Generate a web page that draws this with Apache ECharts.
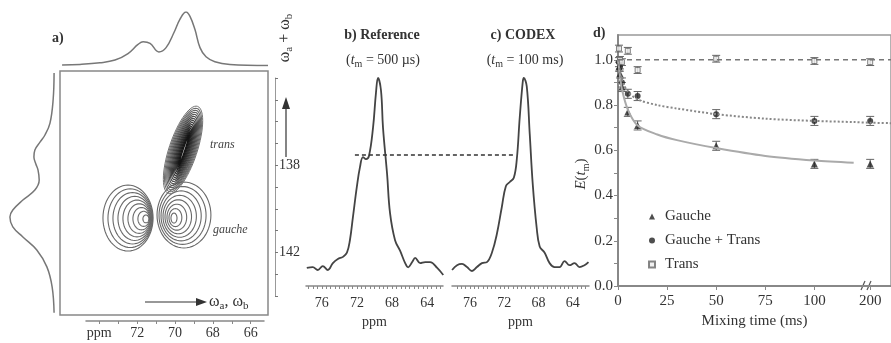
<!DOCTYPE html>
<html>
<head>
<meta charset="utf-8">
<script src="https://cdn.jsdelivr.net/npm/echarts@6/dist/echarts.min.js"></script>
<style>
  html, body { margin: 0; padding: 0; background: #fff; }
  #main { width: 891px; height: 343px; }
</style>
</head>
<body>
<div id="main"></div>
<script>
// ---------- data ----------

// a) projections: [ppm, relative intensity]
const topProj = [
  [76.03, 0.02], [75.08, 0.03], [74.02, 0.06], [73.22, 0.11], [72.53, 0.23],
  [72.0, 0.40], [71.73, 0.45], [71.36, 0.42], [70.89, 0.26], [70.51, 0.34],
  [70.09, 0.62], [69.77, 0.87], [69.45, 1.0], [69.24, 0.92], [68.98, 0.68],
  [68.71, 0.34], [68.39, 0.17], [67.92, 0.08], [67.12, 0.03], [65.1, 0.01]
];
// left projection: [relative intensity, ppm (wa + wb)]
const leftProj = [
  [0.04, 133.71], [0.06, 134.96], [0.125, 136.02], [0.23, 136.57], [0.33, 136.89],
  [0.44, 137.26], [0.46, 137.59], [0.42, 137.91], [0.375, 138.18], [0.35, 138.65],
  [0.44, 139.11], [0.69, 139.57], [0.90, 140.03], [0.96, 140.35], [0.90, 140.81],
  [0.69, 141.27], [0.40, 141.87], [0.19, 142.65], [0.08, 143.58], [0.04, 144.77]
];
// 2D contour peaks: outer / inner contour as [cx, cy, ax, ay, bx, by] (ppm), number of levels
const peaks = [
  { name: 'gauche 1', outer: [72.53, 140.40, 1.33, 0, 0, 1.52], inner: [71.58, 140.44, 0.16, 0, 0, 0.18], levels: 9, dark: false },
  { name: 'gauche 2', outer: [69.56, 140.26, 1.43, 0, 0, 1.52], inner: [70.09, 140.40, 0.16, 0, 0, 0.23], levels: 8, dark: false },
  { name: 'trans', outer: [69.61, 137.26, -0.77, -2.01, -0.705, 0.203], inner: [69.56, 137.26, -0.268, -0.70, -0.05, 0.015], levels: 15, dark: true }
];
const aTicksX = [66, 67, 68, 69, 70, 71, 72, 73, 74];
const aLabelsX = [66, 68, 70, 72, 74];
const aLabelsY = [138, 142];

// b) reference and c) CODEX spectra: [ppm, relative intensity]
const refSpec = [
  [77.71, 0.087], [77.03, 0.091], [76.46, 0.077], [75.89, 0.096], [75.31, 0.077],
  [74.74, 0.11], [74.17, 0.13], [73.6, 0.14], [73.14, 0.16], [72.8, 0.22],
  [72.46, 0.33], [72.0, 0.48], [71.66, 0.57], [71.31, 0.62], [70.97, 0.61],
  [70.63, 0.625], [70.17, 0.76], [69.83, 0.93], [69.6, 1.0], [69.26, 0.94],
  [69.03, 0.76], [68.57, 0.54], [68.23, 0.35], [67.66, 0.22], [67.09, 0.17],
  [66.51, 0.11], [66.17, 0.09], [65.71, 0.115], [65.37, 0.135], [64.8, 0.11],
  [64.23, 0.115], [63.66, 0.115], [62.86, 0.087], [62.17, 0.053]
];
const codexSpec = [
  [78.09, 0.077], [77.51, 0.10], [76.93, 0.106], [76.35, 0.091], [75.77, 0.072],
  [75.19, 0.091], [74.6, 0.11], [74.02, 0.115], [73.44, 0.16], [72.86, 0.25],
  [72.28, 0.38], [71.81, 0.48], [71.35, 0.50], [70.88, 0.52], [70.53, 0.61],
  [70.19, 0.81], [69.84, 0.98], [69.72, 1.0], [69.37, 0.96], [69.02, 0.73],
  [68.67, 0.49], [68.21, 0.28], [67.86, 0.19], [67.28, 0.16], [66.7, 0.11],
  [66.12, 0.091], [65.53, 0.091], [64.95, 0.12], [64.37, 0.10], [63.79, 0.11],
  [63.21, 0.091], [62.63, 0.10], [62.16, 0.115]
];
// dashed level of the reference shoulder, in the b) ppm scale carried on over c)
const shoulderLevel = [[72.23, 0.63], [53.94, 0.63]];
const bcLabels = [64, 68, 72, 76];

// d) exchange decay E(tm)
const times = [0.5, 1, 2, 5, 10, 50, 100, 200];
const gauche = [0.97, 0.94, 0.88, 0.77, 0.71, 0.62, 0.54, 0.54];
const gaucheTrans = [0.99, 0.97, 0.90, 0.85, 0.84, 0.76, 0.73, 0.73];
const trans = [1.05, 1.0, 0.99, 1.04, 0.955, 1.005, 0.995, 0.99];
const errG = [0.02, 0.02, 0.02, 0.02, 0.02, 0.02, 0.02, 0.02];
const errGT = [0.02, 0.02, 0.02, 0.02, 0.02, 0.02, 0.02, 0.02];
const errT = [0.015, 0.015, 0.015, 0.015, 0.015, 0.015, 0.015, 0.015];
const fitGaucheT = [0, 1, 2, 5, 10, 20, 30, 50, 75, 100, 120];
const fitGauche = [1.0, 0.93, 0.87, 0.78, 0.71, 0.67, 0.645, 0.61, 0.575, 0.555, 0.545];
const fitGTT = [0, 1, 2, 5, 10, 20, 30, 50, 75, 100, 120, 200, 211];
const fitGT = [1.0, 0.95, 0.91, 0.86, 0.825, 0.80, 0.785, 0.76, 0.74, 0.73, 0.725, 0.722, 0.72];
const fitTransT = [0, 211];
const fitTrans = [1.0, 1.0];
const dTicksX = [0, 25, 50, 75, 100, 200];
const dTicksY = [0, 0.2, 0.4, 0.6, 0.8, 1.0];

// broken time axis: the stretch between breakFrom and breakFrom + breakShift is cut out
const breakFrom = 122, breakShift = 71.6;
const tx = t => (t <= breakFrom ? t : t - breakShift);

// ---------- chart ----------
const serif = '"Liberation Serif", "DejaVu Serif", serif';
const ink = '#333';

const chart = echarts.init(document.getElementById('main'));

// contour list from the peaks
const contours = [];
peaks.forEach(p => {
  for (let i = 0; i < p.levels; i++) {
    const f = p.levels === 1 ? 0 : i / (p.levels - 1);
    const c = p.outer.map((v, k) => v + (p.inner[k] - v) * f);
    const gray = p.dark ? Math.round(115 - 95 * f) : 105;
    contours.push({ c, color: `rgb(${gray},${gray},${gray})`, width: p.dark ? 1 + 0.5 * f : 1.1 });
  }
});

const pairs = (xs, ys, f) => xs.map((x, i) => [f ? f(x) : x, ys[i]]);
const errData = (ys, es) => times.map((t, i) => [tx(t), ys[i] - es[i], ys[i] + es[i]]);

function renderContour(params, api) {
  const k = contours[api.value(2)];
  const [cx, cy, ax, ay, bx, by] = k.c;
  const pts = [];
  for (let j = 0; j < 60; j++) {
    const a = (j / 60) * Math.PI * 2;
    pts.push(api.coord([cx + ax * Math.cos(a) + bx * Math.sin(a), cy + ay * Math.cos(a) + by * Math.sin(a)]));
  }
  return { type: 'polygon', shape: { points: pts }, style: { fill: 'none', stroke: k.color, lineWidth: k.width } };
}

function renderErr(params, api) {
  const x = api.value(0);
  const lo = api.coord([x, api.value(1)]);
  const hi = api.coord([x, api.value(2)]);
  const st = { stroke: '#666', lineWidth: 1 };
  return {
    type: 'group',
    children: [
      { type: 'line', shape: { x1: lo[0], y1: lo[1], x2: hi[0], y2: hi[1] }, style: st },
      { type: 'line', shape: { x1: lo[0] - 4, y1: lo[1], x2: lo[0] + 4, y2: lo[1] }, style: st },
      { type: 'line', shape: { x1: hi[0] - 4, y1: hi[1], x2: hi[0] + 4, y2: hi[1] }, style: st }
    ]
  };
}

const hiddenX = (g, min, max, inverse) => ({ gridIndex: g, type: 'value', min, max, inverse: !!inverse, show: false });
const hiddenY = (g, min, max, inverse) => ({ gridIndex: g, type: 'value', min, max, inverse: !!inverse, show: false });
const labelStyle = { fontFamily: serif, fontSize: 14, color: ink };

const specAxis = (g, min, max) => ({
  gridIndex: g, type: 'value', min, max, inverse: true,
  axisLine: { show: true, lineStyle: { color: '#888', width: 1.5 } },
  axisTick: { show: true, length: 3, lineStyle: { color: '#888' }, customValues: Array.from({ length: 31 }, (_, i) => 62.5 + i * 0.5) },
  axisLabel: Object.assign({ margin: 10, customValues: bcLabels }, labelStyle),
  splitLine: { show: false },
  name: 'ppm', nameLocation: 'middle', nameGap: 29, nameTextStyle: labelStyle
});

const sub = { fontFamily: serif, fontSize: 10, color: ink, verticalAlign: 'bottom', lineHeight: 10 };

const option = {
  animation: false,
  backgroundColor: '#fff',
  grid: [
    { left: 60, top: 12, width: 208, height: 54 },                  // 0 top projection
    { left: 8, top: 71, width: 48, height: 244 },                   // 1 left projection
    { left: 60, top: 71, width: 208, height: 244, show: true, borderColor: '#888', borderWidth: 1.5 }, // 2 contour
    { left: 86, top: 300, width: 178, height: 21 },                 // 3 a bottom axis
    { left: 275, top: 78, width: 5, height: 218 },                  // 4 a right axis
    { left: 306, top: 78, width: 137, height: 208 },                // 5 b
    { left: 452, top: 78, width: 137, height: 208 },                // 6 c
    { left: 618, top: 35, width: 283, height: 251, show: true, borderColor: '#999', borderWidth: 1.5 }, // 7 d
    { left: 306, top: 78, width: 283, height: 208 }                 // 8 b scale spread over b and c
  ],
  xAxis: [
    hiddenX(0, 65.1, 76.14, true),
    hiddenX(1, 0, 1, true),
    hiddenX(2, 65.1, 76.14, true),
    {
      gridIndex: 3, type: 'value', min: 65.3, max: 74.7, inverse: true,
      axisLine: { show: true, lineStyle: { color: '#888', width: 1.5 } },
      axisTick: { show: true, length: 3, lineStyle: { color: '#888' }, customValues: aTicksX },
      axisLabel: Object.assign({ margin: 5, customValues: aLabelsX, formatter: v => (v === 74 ? 'ppm' : String(v)) }, labelStyle),
      splitLine: { show: false }
    },
    hiddenX(4, 0, 1),
    specAxis(5, 62.2, 77.8),
    specAxis(6, 62.1, 78.1),
    {
      gridIndex: 7, type: 'value', min: 0, max: 139,
      axisLine: { show: true, lineStyle: { color: '#888', width: 2 } },
      axisTick: { show: true, length: 4, lineStyle: { color: '#888' }, customValues: dTicksX.map(tx) },
      axisLabel: {
        margin: 8, customValues: dTicksX.map(tx), fontFamily: serif, color: ink, fontSize: 15,
        formatter: v => String(dTicksX.find(t => Math.abs(tx(t) - v) < 0.01))
      },
      splitLine: { show: false },
      name: 'Mixing time (ms)', nameLocation: 'middle', nameGap: 28,
      nameTextStyle: { fontFamily: serif, fontSize: 15, color: ink }
    },
    hiddenX(8, 45.57, 77.8, true)
  ],
  yAxis: [
    hiddenY(0, 0, 1),
    hiddenY(1, 133.62, 144.87, true),
    hiddenY(2, 133.62, 144.87, true),
    hiddenY(3, 0, 1),
    {
      gridIndex: 4, type: 'value', min: 134, max: 144, interval: 1, inverse: true, position: 'left',
      axisLine: { show: true, lineStyle: { color: '#999', width: 1 } },
      axisTick: { show: true, inside: true, length: 3, lineStyle: { color: '#777' } },
      axisLabel: Object.assign({ inside: true, margin: 4, formatter: v => (aLabelsY.includes(v) ? String(v) : '') }, labelStyle),
      splitLine: { show: false }
    },
    hiddenY(5, 0, 1),
    hiddenY(6, 0, 1),
    {
      gridIndex: 7, type: 'value', min: 0, max: 1.11,
      axisLine: { show: true, lineStyle: { color: '#888', width: 2 } },
      axisTick: { show: true, length: 4, lineStyle: { color: '#888' }, customValues: Array.from({ length: 11 }, (_, i) => i / 10) },
      axisLabel: { margin: 5, customValues: dTicksY, formatter: v => v.toFixed(1), fontFamily: serif, fontSize: 15, color: ink },
      splitLine: { show: false }
    },
    hiddenY(8, 0, 1)
  ],
  legend: {
    data: ['Gauche', 'Gauche + Trans', 'Trans'],
    orient: 'vertical', left: 643, top: 204, itemWidth: 6, itemHeight: 6, itemGap: 9,
    textStyle: { fontFamily: serif, fontSize: 15, color: ink, padding: [0, 0, 0, 5] }
  },
  series: [
    { type: 'line', xAxisIndex: 0, yAxisIndex: 0, data: topProj, smooth: 0.4, showSymbol: false, lineStyle: { color: '#777', width: 1.5 } },
    { type: 'line', xAxisIndex: 1, yAxisIndex: 1, data: leftProj, smooth: 0.4, showSymbol: false, lineStyle: { color: '#777', width: 1.5 } },
    {
      type: 'custom', xAxisIndex: 2, yAxisIndex: 2, renderItem: renderContour,
      data: contours.map((k, i) => [k.c[0], k.c[1], i]), clip: true, silent: true
    },
    { type: 'line', xAxisIndex: 5, yAxisIndex: 5, data: refSpec, smooth: 0.4, showSymbol: false, lineStyle: { color: '#444', width: 1.8 } },
    {
      type: 'line', xAxisIndex: 8, yAxisIndex: 8, data: shoulderLevel, showSymbol: false,
      lineStyle: { color: '#333', width: 1.5, type: [4, 3] }
    },
    { type: 'line', xAxisIndex: 6, yAxisIndex: 6, data: codexSpec, smooth: 0.4, showSymbol: false, lineStyle: { color: '#444', width: 1.8 } },
    // d) fits
    { type: 'line', xAxisIndex: 7, yAxisIndex: 7, data: pairs(fitGaucheT, fitGauche, tx), smooth: 0.3, showSymbol: false, lineStyle: { color: '#aaa', width: 2 } },
    { type: 'line', xAxisIndex: 7, yAxisIndex: 7, data: pairs(fitGTT, fitGT, tx), smooth: 0.3, showSymbol: false, lineStyle: { color: '#888', width: 2, type: [2, 2] } },
    { type: 'line', xAxisIndex: 7, yAxisIndex: 7, data: pairs(fitTransT, fitTrans, tx), showSymbol: false, lineStyle: { color: '#777', width: 1.5, type: [5, 4] } },
    // d) error bars
    { type: 'custom', xAxisIndex: 7, yAxisIndex: 7, renderItem: renderErr, data: errData(gauche, errG) },
    { type: 'custom', xAxisIndex: 7, yAxisIndex: 7, renderItem: renderErr, data: errData(gaucheTrans, errGT) },
    { type: 'custom', xAxisIndex: 7, yAxisIndex: 7, renderItem: renderErr, data: errData(trans, errT) },
    // d) points
    { name: 'Gauche', type: 'scatter', xAxisIndex: 7, yAxisIndex: 7, data: pairs(times, gauche, tx), symbol: 'triangle', symbolSize: 7, itemStyle: { color: '#222' } },
    { name: 'Gauche + Trans', type: 'scatter', xAxisIndex: 7, yAxisIndex: 7, data: pairs(times, gaucheTrans, tx), symbol: 'circle', symbolSize: 6, itemStyle: { color: '#222' } },
    { name: 'Trans', type: 'scatter', xAxisIndex: 7, yAxisIndex: 7, data: pairs(times, trans, tx), symbol: 'rect', symbolSize: 5, itemStyle: { color: '#eee', borderColor: '#666', borderWidth: 1 } }
  ],
  graphic: [
    { type: 'text', x: 52, y: 38, style: { text: 'a)', font: `bold 14px ${serif}`, fill: ink, verticalAlign: 'middle' } },
    { type: 'text', x: 593, y: 33, style: { text: 'd)', font: `bold 14px ${serif}`, fill: ink, verticalAlign: 'middle' } },
    { type: 'text', x: 382, y: 35, style: { text: 'b) Reference', font: `bold 14px ${serif}`, fill: ink, align: 'center', verticalAlign: 'middle' } },
    { type: 'text', x: 523, y: 35, style: { text: 'c) CODEX', font: `bold 14px ${serif}`, fill: ink, align: 'center', verticalAlign: 'middle' } },
    {
      type: 'text', x: 383, y: 60,
      style: { text: '({i|t}{s|m} = 500 µs)', font: `14px ${serif}`, fill: ink, align: 'center', verticalAlign: 'middle', lineHeight: 18,
        rich: { i: { fontFamily: serif, fontSize: 14, fontStyle: 'italic', color: ink }, s: sub } }
    },
    {
      type: 'text', x: 525, y: 60,
      style: { text: '({i|t}{s|m} = 100 ms)', font: `14px ${serif}`, fill: ink, align: 'center', verticalAlign: 'middle', lineHeight: 18,
        rich: { i: { fontFamily: serif, fontSize: 14, fontStyle: 'italic', color: ink }, s: sub } }
    },
    { type: 'text', x: 210, y: 145, style: { text: 'trans', font: `italic 12px ${serif}`, fill: '#444', verticalAlign: 'middle' } },
    { type: 'text', x: 213, y: 230, style: { text: 'gauche', font: `italic 12px ${serif}`, fill: '#444', verticalAlign: 'middle' } },
    // bottom arrow in a)
    { type: 'line', shape: { x1: 145, y1: 302, x2: 198, y2: 302 }, style: { stroke: '#333', lineWidth: 1.2 } },
    { type: 'polygon', shape: { points: [[207, 302], [196, 298], [196, 306]] }, style: { fill: '#333' } },
    {
      type: 'text', x: 209, y: 302,
      style: { text: 'ω{s|a}, ω{s|b}', font: `16px ${serif}`, fill: ink, verticalAlign: 'middle', lineHeight: 20,
        rich: { s: { fontFamily: serif, fontSize: 11, color: ink, verticalAlign: 'bottom', lineHeight: 12 } } }
    },
    // right arrow in a)
    { type: 'line', shape: { x1: 286, y1: 157, x2: 286, y2: 108 }, style: { stroke: '#333', lineWidth: 1.2 } },
    { type: 'polygon', shape: { points: [[286, 97], [282, 109], [290, 109]] }, style: { fill: '#333' } },
    {
      type: 'text', x: 285, y: 38, rotation: Math.PI / 2,
      style: { text: 'ω{s|a} + ω{s|b}', font: `16px ${serif}`, fill: ink, align: 'center', verticalAlign: 'middle', lineHeight: 20,
        rich: { s: { fontFamily: serif, fontSize: 11, color: ink, verticalAlign: 'bottom', lineHeight: 12 } } }
    },
    // y name of d)
    {
      type: 'text', x: 581, y: 174, rotation: Math.PI / 2,
      style: { text: '{i|E}({i|t}{s|m})', font: `15px ${serif}`, fill: ink, align: 'center', verticalAlign: 'middle', lineHeight: 20,
        rich: { i: { fontFamily: serif, fontSize: 15, fontStyle: 'italic', color: ink }, s: { fontFamily: serif, fontSize: 10, color: ink, verticalAlign: 'bottom', lineHeight: 11 } } }
    },
    // axis break mark in d)
    { type: 'rect', shape: { x: 862, y: 283, width: 10, height: 6 }, style: { fill: '#fff' } },
    { type: 'line', shape: { x1: 861, y1: 290, x2: 865, y2: 281 }, style: { stroke: '#555', lineWidth: 1.2 } },
    { type: 'line', shape: { x1: 867, y1: 290, x2: 871, y2: 281 }, style: { stroke: '#555', lineWidth: 1.2 } }
  ]
};

chart.setOption(option);
</script>
</body>
</html>
